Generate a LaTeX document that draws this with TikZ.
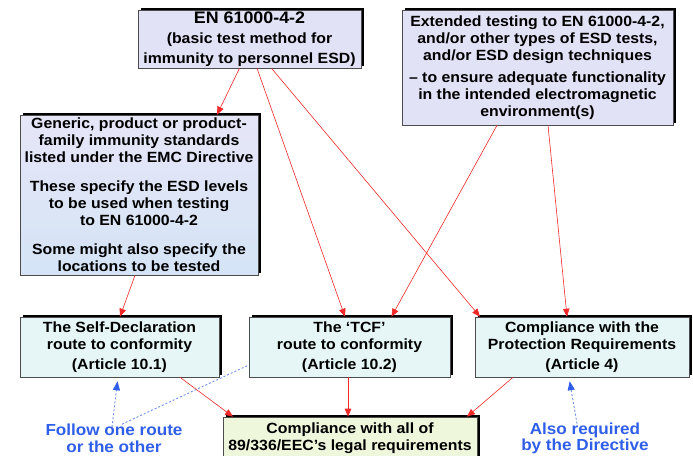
\documentclass[tikz,border=0pt]{standalone}
\usepackage{fontspec}
\setmainfont[FakeStretch=1.07]{Liberation Sans}
\usetikzlibrary{arrows.meta,shadows,calc}
\definecolor{lav}{HTML}{E2E2F6}
\definecolor{gentop}{HTML}{E6E6F7}
\definecolor{genbot}{HTML}{D4E4F6}
\definecolor{cyanbox}{HTML}{E6F6F6}
\definecolor{greenbox}{HTML}{EEF6DC}
\definecolor{bluetext}{HTML}{2F5FE8}
\definecolor{blueline}{HTML}{6F8FE8}
\definecolor{redline}{HTML}{F02828}
\tikzset{
  boxnode/.style={draw=gray!60!black, line width=0.6pt, align=center, inner sep=0pt,
    drop shadow={shadow xshift=2.5pt, shadow yshift=2.5pt, fill=black, opacity=1},
    font=\bfseries\fontsize{14.8}{17}\selectfont},
  labelnode/.style={align=center, inner sep=1pt, text=bluetext,
    font=\bfseries\fontsize{16}{16.5}\selectfont},
  redarrow/.style={draw=redline, line width=0.6pt, -{Triangle[length=8pt,width=6.5pt]}},
  bluearrow/.style={draw=blueline, line width=0.9pt, dash pattern=on 2pt off 2pt,
    -{Triangle[length=9pt,width=7pt,color=bluetext,fill=bluetext]}},
  blueline/.style={draw=blueline, line width=0.9pt, dash pattern=on 2pt off 2pt}
}
\begin{document}
\begin{tikzpicture}[x=1pt,y=-1pt]
\useasboundingbox[fill=white] (0,0) rectangle (693,455);

\node[boxnode, fill=lav, minimum width=223pt, minimum height=58pt,
  font=\bfseries\fontsize{14.8}{20}\selectfont] (en) at (249.5,39)
  {{\fontsize{16.7}{20}\selectfont EN 61000-4-2}\\(basic test method for\\immunity to personnel ESD)};

\node[boxnode, fill=lav, minimum width=271pt, minimum height=115pt] (ext) at (537.5,67.5)
  {Extended testing to EN 61000-4-2,\\and/or other types of ESD tests,\\and/or ESD design techniques\\[5pt]
   – to ensure adequate functionality\\in the intended electromagnetic\\environment(s)};

\node[boxnode, top color=gentop, bottom color=genbot, minimum width=238pt, minimum height=160pt] (gen) at (139,195)
  {Generic, product or product-\\family immunity standards\\listed under the EMC Directive\\[12pt]
   These specify the ESD levels\\to be used when testing\\to EN 61000-4-2\\[12pt]
   Some might also specify the\\locations to be tested};

\node[boxnode, fill=cyanbox, minimum width=199pt, minimum height=60pt] (self) at (119.5,347)
  {The Self-Declaration\\route to conformity\\[3pt](Article 10.1)};

\node[boxnode, fill=cyanbox, minimum width=201pt, minimum height=60pt] (tcf) at (349.5,347)
  {The ‘TCF’\\route to conformity\\[3pt](Article 10.2)};

\node[boxnode, fill=cyanbox, minimum width=214pt, minimum height=60pt] (prot) at (582,347)
  {Compliance with the\\Protection Requirements\\[3pt](Article 4)};

\node[boxnode, fill=greenbox, minimum width=254pt, minimum height=62pt] (comp) at (350,448)
  {Compliance with all of\\89/336/EEC’s legal requirements\\\strut};

\node[labelnode] (follow) at (114,438.5) {Follow one route\\or the other};
\node[labelnode] (also) at (585,438.5) {Also required\\by the Directive};

% red connectors
\draw[redarrow] ([xshift=-10pt]en.south) -- ([xshift=78pt]gen.north);
\draw[redarrow] ([xshift=7.5pt]en.south) -- ([xshift=-4.5pt]tcf.north);
\draw[redarrow] ([xshift=22pt]en.south) -- ([xshift=-102pt]prot.north);
\draw[redarrow] ([xshift=-40.5pt]ext.south) -- ([xshift=42pt]tcf.north);
\draw[redarrow] ([xshift=10.5pt]ext.south) -- ([xshift=-15pt]prot.north);
\draw[redarrow] ([xshift=-4pt]gen.south) -- ([xshift=0.5pt]self.north);
\draw[redarrow] ([xshift=60.5pt]self.south) -- ([xshift=-117pt]comp.north);
\draw[redarrow] ([xshift=-1.5pt]tcf.south) -- ([xshift=-2pt]comp.north);
\draw[redarrow] ([xshift=-69pt]prot.south) -- ([xshift=117pt]comp.north);

% blue connectors
\draw[bluearrow, shorten >=4pt] ([xshift=-2pt,yshift=-4pt]follow.north) -- ([xshift=-1.5pt]self.south);
\draw[blueline] ([xshift=8pt,yshift=-1pt]follow.north) -- ([yshift=-18pt]tcf.west);
\draw[bluearrow, shorten >=4pt] ([xshift=-8pt,yshift=-2pt]also.north) -- ([xshift=-13pt]prot.south);
\end{tikzpicture}
\end{document}
